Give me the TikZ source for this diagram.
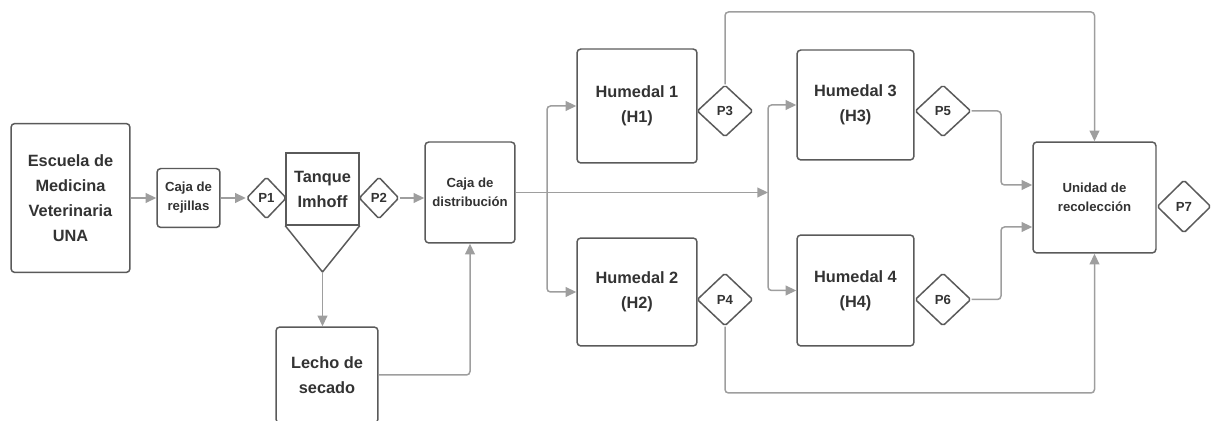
\documentclass[tikz,border=0pt]{standalone}
\usepackage{fontspec}
\setmainfont{Liberation Sans}
\usetikzlibrary{shapes.geometric,arrows.meta}
\definecolor{boxgray}{HTML}{5A5A5A}
\definecolor{linegray}{HTML}{9E9E9E}
\definecolor{txtgray}{HTML}{333333}

\begin{document}
\begin{tikzpicture}[x=0.02cm,y=-0.02cm,
  box/.style={draw=boxgray,line width=0.85pt,rounded corners=2.2pt,fill=white,text=txtgray,
    font=\bfseries\fontsize{9.3}{14.2}\selectfont,align=center,inner sep=0pt},
  smallbox/.style={box,font=\bfseries\fontsize{7.5}{10.8}\selectfont},
  pump/.style={draw=boxgray,line width=0.85pt,shape=diamond,rounded corners=1pt,fill=white,
    text=txtgray,font=\bfseries\fontsize{7.5}{9}\selectfont,inner sep=0pt},
  flow/.style={draw=linegray,line width=0.85pt,rounded corners=2pt,-{Triangle[length=6pt,width=5.5pt]}}]
\useasboundingbox (0,0) rectangle (1211,421);

\node[box,minimum width=2.38cm,minimum height=2.98cm] (esc) at (70.5,198) {Escuela de\\Medicina\\Veterinaria\\UNA};
\node[smallbox,minimum width=1.26cm,minimum height=1.18cm] (rej) at (188.5,198) {Caja de\\rejillas};
\node[box,rounded corners=0pt,minimum width=1.46cm,minimum height=1.44cm] (tank) at (322.5,189) {Tanque\\Imhoff};
\coordinate (apex) at (322.5,272);
\draw[draw=boxgray,line width=0.85pt] (tank.south west) -- (apex) -- (tank.south east);
\node[pump,minimum width=0.8cm,minimum height=0.84cm] (p1) at (266.5,198) {P1};
\node[pump,minimum width=0.8cm,minimum height=0.84cm] (p2) at (379,198) {P2};
\node[smallbox,minimum width=1.8cm,minimum height=2.02cm] (dist) at (470,192.5) {Caja de\\distribución};
\node[box,minimum width=2.04cm,minimum height=1.92cm] (lecho) at (327,375) {Lecho de\\secado};

\node[box,minimum width=2.4cm,minimum height=2.28cm] (h1) at (637,106) {Humedal 1\\(H1)};
\node[box,minimum width=2.4cm,minimum height=2.16cm] (h2) at (637,292) {Humedal 2\\(H2)};
\node[box,minimum width=2.34cm,minimum height=2.2cm] (h3) at (855.5,105) {Humedal 3\\(H3)};
\node[box,minimum width=2.34cm,minimum height=2.22cm] (h4) at (855.5,290.5) {Humedal 4\\(H4)};
\node[smallbox,minimum width=2.46cm,minimum height=2.22cm] (uni) at (1094.5,197.5) {Unidad de\\recolección};

\node[pump,minimum width=1.12cm,minimum height=1.04cm] (p3) at (725,111) {P3};
\node[pump,minimum width=1.12cm,minimum height=1.06cm] (p4) at (725,299.5) {P4};
\node[pump,minimum width=1.12cm,minimum height=1.04cm] (p5) at (943,111) {P5};
\node[pump,minimum width=1.12cm,minimum height=1.06cm] (p6) at (943,299.5) {P6};
\node[pump,minimum width=1.08cm,minimum height=1.06cm] (p7) at (1184,206.5) {P7};

\coordinate (sp1) at (547,193);
\coordinate (sp2) at (768,193);
\coordinate (t3) at (725,12);
\coordinate (b4) at (725,393);
\coordinate (c5) at (1001,185);
\coordinate (c6) at (1001,227);

\draw[flow] (esc.east) -- (rej.west);
\draw[flow] (rej.east) -- (p1.west);
\draw[flow] (p2.east) -- (p2.east -| dist.west);
\draw[flow] (apex) -- (apex |- lecho.north);
\draw[flow] (lecho.east) -| (dist.south);
\draw[flow] (dist.east) -- (dist.east -| sp2);
\draw[flow] (sp1) |- (h1.west);
\draw[flow] (sp1) |- (h2.west);
\draw[flow] (sp2) |- (h3.west);
\draw[flow] (sp2) |- (h4.west);
\draw[flow] (p3.north) -- (t3) -| (uni.north);
\draw[flow] (p4.south) -- (b4) -| (uni.south);
\draw[flow] (p5.east) -| (c5) -- (c5 -| uni.west);
\draw[flow] (p6.east) -| (c6) -- (c6 -| uni.west);
\end{tikzpicture}
\end{document}
